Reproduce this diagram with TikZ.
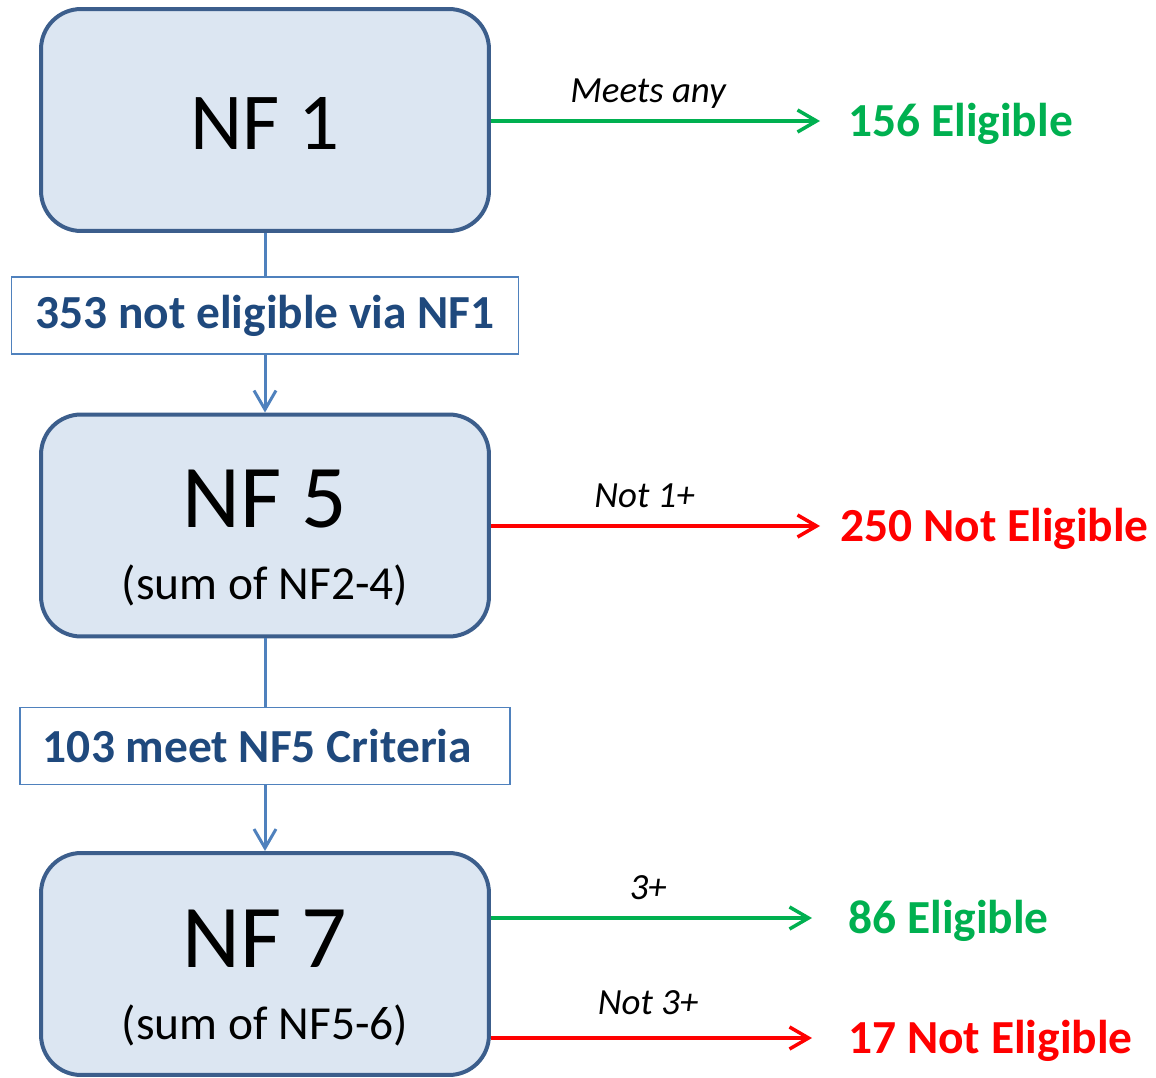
\documentclass[tikz,border=0pt]{standalone}
\usepackage{fontspec}
\setmainfont{Carlito}
\usetikzlibrary{arrows.meta,positioning}

\definecolor{boxfill}{HTML}{DCE6F2}
\definecolor{boxline}{HTML}{3C5E8C}
\definecolor{flowblue}{HTML}{4F81BD}
\definecolor{labtext}{HTML}{1F497D}
\definecolor{okgreen}{HTML}{00B050}
\definecolor{nored}{HTML}{FF0000}

\tikzset{
    nfbox/.style={draw=boxline,fill=boxfill,line width=0.08cm,rounded corners=0.8cm,
        minimum width=8.96cm,minimum height=4.44cm,inner sep=0pt},
    nftitle/.style={inner sep=0pt,font=\fontsize{51}{60}\selectfont},
    nfsub/.style={inner sep=0pt,font=\fontsize{27}{32}\selectfont},
    countbox/.style={draw=flowblue,fill=white,line width=0.03cm,inner sep=0pt,
        minimum height=1.54cm,text=labtext,font=\fontsize{27}{32}\selectfont\bfseries},
    result/.style={anchor=west,inner sep=0pt,font=\fontsize{27}{32}\selectfont\bfseries},
    rule/.style={anchor=base,inner sep=0pt,yshift=0.38cm,text=black,
        font=\fontsize{21}{25}\selectfont\itshape},
    flow/.style={draw=flowblue,line width=0.06cm},
    tip/.style={-{Straight Barb[length=0.38cm,width=0.44cm]}},
    yes/.style={draw=okgreen,line width=0.07cm,tip},
    no/.style={draw=nored,line width=0.07cm,tip}
}

\begin{document}
\begin{tikzpicture}[x=0.02cm,y=-0.02cm]
\useasboundingbox (0,0) rectangle (1156,1078);

% the three steps
\node[nfbox] (nf1) at (265,120) {};
\node[nftitle,font=\fontsize{46}{54}\selectfont] (t1) at (265,123) {NF 1};
\node[nfbox] (nf5) at (265,525.5) {};
\node[nftitle] (t5) at (265,499) {NF 5};
\node[nfsub] (s5) at (265,585) {(sum of NF2-4)};
\node[nfbox] (nf7) at (265,964) {};
\node[nftitle] (t7) at (265,939) {NF 7};
\node[nfsub] (s7) at (265,1025) {(sum of NF5-6)};

% counts between the steps
\node[countbox,minimum width=10.14cm] (c1) at (265,315.5) {353 not eligible via NF1};
\node[countbox,minimum width=9.8cm] (c2) at (265,746) {\hspace{-0.3cm}103 meet NF5 Criteria};

\draw[flow] (nf1.south) -- (c1.north);
\draw[flow,tip] (c1.south) -- (nf5.north);
\draw[flow] (nf5.south) -- (c2.north);
\draw[flow,tip] (c2.south) -- (nf7.north);

% outcomes
\node[result,text=okgreen] (el1) at (848,124) {156 Eligible};
\node[result,text=nored] (ne1) at (840,529) {250 Not Eligible};
\node[result,text=okgreen] (el2) at (848,921) {86 Eligible};
\node[result,text=nored] (ne2) at (848,1041) {17 Not Eligible};

\draw[yes,shorten >=0.56cm] (nf1.east |- el1.west) ++(0,-3) coordinate (a1) -- (a1 -| el1.west) node[rule,pos=0.44]{Meets any};
\draw[no,shorten >=0.4cm] (nf5.east |- ne1.west) ++(0,-3) coordinate (a2) -- (a2 -| ne1.west) node[rule,pos=0.44]{Not 1+};
\draw[yes,shorten >=0.72cm] (nf7.east |- el2.west) ++(0,-3) coordinate (a3) -- (a3 -| el2.west) node[rule,pos=0.44]{3+};
\draw[no,shorten >=0.72cm] (nf7.east |- ne2.west) ++(0,-3) coordinate (a4) -- (a4 -| ne2.west) node[rule,pos=0.44,yshift=0.1cm]{Not 3+};
\end{tikzpicture}
\end{document}
